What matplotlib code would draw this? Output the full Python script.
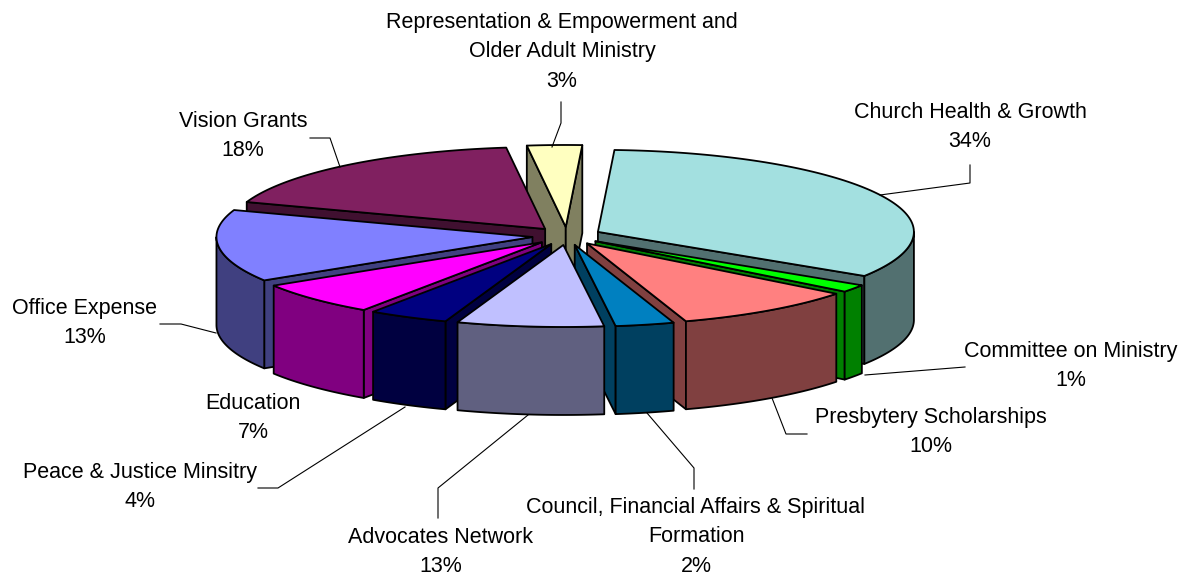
import matplotlib
matplotlib.use('Agg')
import matplotlib.pyplot as plt
from matplotlib.patches import Polygon
import numpy as np

# Slices clockwise from the top. The shares are read off the slice sizes,
# the printed percentages on the picture do not add up to 100.
names = ['Church Health & Growth', 'Committee on Ministry', 'Presbytery Scholarships',
         'Council, Financial Affairs & Spiritual\nFormation', 'Advocates Network',
         'Peace & Justice Minsitry', 'Education', 'Office Expense', 'Vision Grants',
         'Representation & Empowerment and\nOlder Adult Ministry']
printed = ['34%', '1%', '10%', '2%', '13%', '4%', '7%', '13%', '18%', '3%']
shares = [33.2, 1.5, 9.4, 3.0, 7.5, 4.1, 6.6, 14.2, 17.7, 2.8]

top_colors = ['#A3E0E0', '#00FF00', '#FF8080', '#0080C0', '#C0C0FF',
              '#000080', '#FF00FF', '#8080FF', '#802060', '#FFFFC0']
wall_colors = ['#527070', '#008000', '#804040', '#004060', '#606080',
               '#000040', '#800080', '#404080', '#401030', '#808060']

# label centre and leader line per slice, in pixels
label_xy = [(970, 127), (1071, 366), (931, 432), (696, 537), (441, 552),
            (140, 487), (253, 418), (85, 323), (243, 136), (562, 52)]
leaders = [[(970, 165), (970, 183), (880, 195)],
           [(965, 367), (865, 375)],
           [(807, 434), (786, 434), (772, 398)],
           [(694, 489), (694, 468), (647, 413)],
           [(438, 518), (438, 488), (528, 415)],
           [(258, 488), (278, 488), (405, 407)],
           None,
           [(160, 324), (181, 324), (216, 333)],
           [(310, 138), (330, 138), (340, 167)],
           [(561, 102), (561, 123), (552, 147)]]

cx, cy = 567, 236
rx, ry = 316, 82
depth = 88
explode = 0.11
start_deg = 3.0

fig = plt.figure(figsize=(11.85, 5.78), dpi=100)
ax = fig.add_axes([0, 0, 1, 1])
ax.set_xlim(0, 1185)
ax.set_ylim(578, 0)
ax.axis('off')

plt.rcParams['font.family'] = ['Liberation Sans', 'DejaVu Sans']

edges = start_deg + np.cumsum([0] + shares) / np.sum(shares) * 360


def on_rim(apex, deg):
    t = np.radians(deg)
    return np.column_stack([apex[0] + rx * np.sin(t), apex[1] - ry * np.cos(t)])


def drop(pts):
    return pts + np.array([0, depth])


def add_poly(pts, color):
    ax.add_patch(Polygon(pts, closed=True, facecolor=color, edgecolor='black',
                         linewidth=1.3, joinstyle='round'))


mids = (edges[:-1] + edges[1:]) / 2
# back slices first, front ones paint over them
for i in np.argsort(np.cos(np.radians(mids)) * -1):
    a0, a1 = edges[i], edges[i + 1]
    m = np.radians(mids[i])
    apex = np.array([cx + explode * rx * np.sin(m), cy - explode * ry * np.cos(m)])

    # radial walls, only the ones facing the viewer
    for deg, visible in ((a0, np.sin(np.radians(a0)) < 0), (a1, np.sin(np.radians(a1)) > 0)):
        if visible:
            edge = np.vstack([apex, on_rim(apex, deg)])
            add_poly(np.vstack([edge, drop(edge)[::-1]]), wall_colors[i])

    # outer wall on the front half of the rim
    lo, hi = max(a0, 90), min(a1, 270)
    if hi > lo:
        rim = on_rim(apex, np.linspace(lo, hi, 60))
        add_poly(np.vstack([rim, drop(rim)[::-1]]), wall_colors[i])

    rim = on_rim(apex, np.linspace(a0, a1, 100))
    add_poly(np.vstack([apex, rim]), top_colors[i])

for i in range(len(names)):
    if leaders[i] is not None:
        xs, ys = zip(*leaders[i])
        ax.plot(xs, ys, color='black', lw=0.8)
    ax.text(label_xy[i][0], label_xy[i][1], names[i] + '\n' + printed[i], ha='center', va='center',
            fontsize=15.5, linespacing=1.55, color='black')

fig.savefig('out.png', dpi=100)
